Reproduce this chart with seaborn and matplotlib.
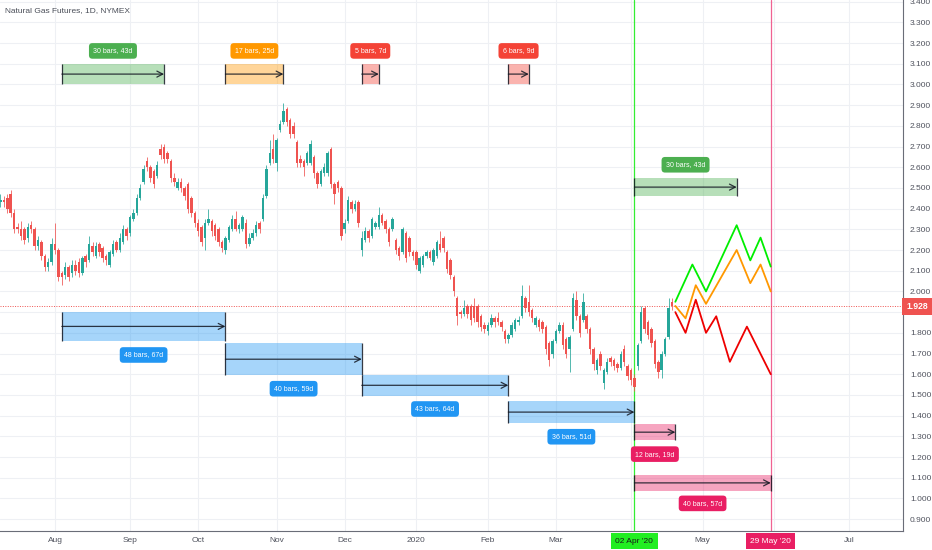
import numpy as np
import pandas as pd
import matplotlib
matplotlib.use('Agg')
import matplotlib.pyplot as plt
from matplotlib.patches import Rectangle
import seaborn as sns

# Daily bars NG1!, 10 Jul 2019 .. 20 Apr 2020
opens = [
    2.43, 2.44, 2.45, 2.47, 2.38, 2.31, 2.30, 2.30, 2.26, 2.32,
    2.30, 2.22, 2.24, 2.17, 2.12, 2.14, 2.23, 2.20, 2.09, 2.08,
    2.12, 2.09, 2.13, 2.14, 2.09, 2.17, 2.15, 2.22, 2.17, 2.23,
    2.21, 2.17, 2.13, 2.18, 2.24, 2.20, 2.24, 2.30, 2.28, 2.35,
    2.38, 2.45, 2.53, 2.63, 2.60, 2.58, 2.56, 2.69, 2.70, 2.67,
    2.63, 2.55, 2.50, 2.53, 2.50, 2.52, 2.45, 2.38, 2.33, 2.31,
    2.26, 2.33, 2.34, 2.32, 2.30, 2.24, 2.20, 2.25, 2.30, 2.35,
    2.30, 2.30, 2.33, 2.23, 2.26, 2.28, 2.33, 2.35, 2.46, 2.62,
    2.69, 2.62, 2.78, 2.82, 2.88, 2.83, 2.80, 2.72, 2.64, 2.63,
    2.62, 2.62, 2.65, 2.57, 2.52, 2.57, 2.57, 2.69, 2.52, 2.53,
    2.50, 2.30, 2.34, 2.43, 2.40, 2.43, 2.20, 2.25, 2.29, 2.27,
    2.31, 2.31, 2.37, 2.34, 2.30, 2.30, 2.25, 2.21, 2.19, 2.28,
    2.26, 2.19, 2.19, 2.10, 2.13, 2.17, 2.19, 2.14, 2.17, 2.23,
    2.26, 2.19, 2.15, 2.07, 1.97, 1.90, 1.89, 1.93, 1.93, 1.93,
    1.93, 1.88, 1.84, 1.81, 1.84, 1.87, 1.87, 1.85, 1.81, 1.77,
    1.79, 1.82, 1.85, 1.88, 1.97, 1.95, 1.91, 1.84, 1.86, 1.85,
    1.83, 1.75, 1.70, 1.76, 1.81, 1.84, 1.77, 1.72, 1.82, 1.96,
    1.88, 1.86, 1.88, 1.82, 1.72, 1.62, 1.70, 1.56, 1.61, 1.68,
    1.67, 1.65, 1.63, 1.72, 1.64, 1.62, 1.58, 1.64, 1.76, 1.92,
    1.85, 1.82, 1.76, 1.66, 1.62, 1.70, 1.78, 1.95,
]
closes = [
    2.44, 2.43, 2.40, 2.38, 2.30, 2.30, 2.27, 2.25, 2.31, 2.30,
    2.22, 2.25, 2.17, 2.12, 2.14, 2.23, 2.20, 2.07, 2.07, 2.12,
    2.07, 2.13, 2.10, 2.09, 2.16, 2.14, 2.23, 2.19, 2.22, 2.19,
    2.16, 2.15, 2.19, 2.23, 2.20, 2.26, 2.30, 2.27, 2.36, 2.38,
    2.45, 2.50, 2.59, 2.60, 2.55, 2.52, 2.61, 2.66, 2.64, 2.64,
    2.55, 2.53, 2.53, 2.50, 2.46, 2.40, 2.38, 2.33, 2.29, 2.24,
    2.33, 2.35, 2.29, 2.27, 2.24, 2.21, 2.26, 2.31, 2.35, 2.30,
    2.32, 2.36, 2.23, 2.26, 2.28, 2.32, 2.30, 2.45, 2.59, 2.67,
    2.64, 2.73, 2.81, 2.87, 2.82, 2.76, 2.76, 2.62, 2.62, 2.60,
    2.67, 2.71, 2.57, 2.52, 2.58, 2.60, 2.67, 2.52, 2.47, 2.50,
    2.27, 2.33, 2.44, 2.40, 2.42, 2.33, 2.26, 2.29, 2.26, 2.35,
    2.33, 2.37, 2.33, 2.30, 2.24, 2.35, 2.20, 2.17, 2.30, 2.16,
    2.19, 2.17, 2.13, 2.16, 2.17, 2.19, 2.16, 2.20, 2.24, 2.20,
    2.21, 2.11, 2.08, 2.00, 1.88, 1.89, 1.92, 1.89, 1.86, 1.87,
    1.85, 1.83, 1.82, 1.84, 1.87, 1.85, 1.85, 1.83, 1.77, 1.79,
    1.84, 1.86, 1.86, 1.98, 1.92, 1.90, 1.87, 1.87, 1.83, 1.82,
    1.72, 1.67, 1.76, 1.81, 1.84, 1.74, 1.70, 1.78, 1.97, 1.88,
    1.80, 1.95, 1.82, 1.72, 1.65, 1.67, 1.64, 1.62, 1.66, 1.66,
    1.64, 1.63, 1.70, 1.66, 1.59, 1.57, 1.54, 1.74, 1.90, 1.82,
    1.79, 1.75, 1.65, 1.61, 1.70, 1.77, 1.92, 1.928,
]
highs = [
    2.47, 2.46, 2.47, 2.49, 2.40, 2.33, 2.34, 2.31, 2.33, 2.34,
    2.31, 2.27, 2.25, 2.18, 2.16, 2.26, 2.33, 2.21, 2.10, 2.14,
    2.13, 2.15, 2.15, 2.16, 2.17, 2.18, 2.27, 2.24, 2.24, 2.24,
    2.22, 2.18, 2.20, 2.25, 2.25, 2.28, 2.32, 2.31, 2.37, 2.40,
    2.47, 2.52, 2.61, 2.65, 2.61, 2.59, 2.63, 2.71, 2.71, 2.68,
    2.64, 2.57, 2.55, 2.55, 2.51, 2.53, 2.46, 2.39, 2.35, 2.32,
    2.35, 2.40, 2.35, 2.33, 2.31, 2.25, 2.27, 2.32, 2.37, 2.39,
    2.33, 2.37, 2.35, 2.28, 2.30, 2.34, 2.34, 2.47, 2.61, 2.73,
    2.76, 2.74, 2.83, 2.91, 2.89, 2.84, 2.82, 2.73, 2.66, 2.64,
    2.68, 2.73, 2.66, 2.58, 2.59, 2.62, 2.68, 2.70, 2.53, 2.54,
    2.51, 2.35, 2.46, 2.44, 2.44, 2.44, 2.29, 2.31, 2.30, 2.36,
    2.34, 2.41, 2.38, 2.35, 2.31, 2.36, 2.26, 2.22, 2.31, 2.29,
    2.27, 2.20, 2.20, 2.17, 2.18, 2.20, 2.20, 2.21, 2.25, 2.29,
    2.27, 2.20, 2.16, 2.08, 1.98, 1.91, 1.96, 1.94, 1.94, 1.97,
    1.94, 1.89, 1.85, 1.85, 1.89, 1.88, 1.90, 1.86, 1.82, 1.80,
    1.85, 1.87, 1.88, 2.03, 1.98, 2.03, 1.92, 1.88, 1.87, 1.86,
    1.84, 1.76, 1.77, 1.82, 1.85, 1.85, 1.78, 1.79, 1.99, 2.00,
    1.89, 1.99, 1.89, 1.83, 1.73, 1.68, 1.71, 1.63, 1.68, 1.69,
    1.68, 1.66, 1.71, 1.74, 1.65, 1.63, 1.60, 1.75, 1.93, 1.93,
    1.86, 1.83, 1.77, 1.67, 1.71, 1.78, 1.97, 1.97,
]
lows = [
    2.41, 2.41, 2.38, 2.36, 2.28, 2.28, 2.25, 2.23, 2.24, 2.28,
    2.20, 2.20, 2.15, 2.10, 2.10, 2.13, 2.18, 2.05, 2.03, 2.06,
    2.05, 2.07, 2.08, 2.07, 2.08, 2.12, 2.14, 2.17, 2.16, 2.17,
    2.14, 2.13, 2.12, 2.17, 2.19, 2.19, 2.23, 2.25, 2.27, 2.34,
    2.37, 2.44, 2.52, 2.58, 2.53, 2.50, 2.55, 2.64, 2.62, 2.62,
    2.53, 2.51, 2.49, 2.48, 2.44, 2.38, 2.36, 2.31, 2.27, 2.22,
    2.20, 2.32, 2.27, 2.25, 2.22, 2.19, 2.18, 2.24, 2.29, 2.29,
    2.28, 2.29, 2.21, 2.22, 2.25, 2.27, 2.28, 2.34, 2.45, 2.61,
    2.62, 2.58, 2.77, 2.81, 2.80, 2.74, 2.74, 2.60, 2.60, 2.56,
    2.61, 2.61, 2.55, 2.50, 2.51, 2.56, 2.56, 2.50, 2.42, 2.48,
    2.25, 2.28, 2.33, 2.38, 2.39, 2.31, 2.17, 2.24, 2.24, 2.26,
    2.30, 2.30, 2.32, 2.28, 2.22, 2.29, 2.18, 2.15, 2.18, 2.14,
    2.17, 2.15, 2.11, 2.09, 2.12, 2.16, 2.15, 2.13, 2.16, 2.19,
    2.19, 2.09, 2.06, 1.98, 1.84, 1.87, 1.88, 1.87, 1.84, 1.85,
    1.83, 1.81, 1.80, 1.79, 1.83, 1.83, 1.84, 1.81, 1.75, 1.75,
    1.78, 1.81, 1.84, 1.87, 1.90, 1.88, 1.85, 1.83, 1.81, 1.80,
    1.70, 1.64, 1.68, 1.75, 1.80, 1.72, 1.68, 1.61, 1.81, 1.86,
    1.78, 1.85, 1.80, 1.70, 1.62, 1.60, 1.62, 1.53, 1.60, 1.64,
    1.62, 1.61, 1.62, 1.64, 1.57, 1.55, 1.52, 1.62, 1.75, 1.80,
    1.77, 1.73, 1.63, 1.58, 1.58, 1.69, 1.77, 1.91,
]
last_price = 1.928

# trading calendar (CME closed days), future bars run past the data
holidays = ['2019-09-02', '2019-11-28', '2019-12-25', '2020-01-01', '2020-01-20', '2020-04-10']
start_date, end_date = '2019-07-10', '2020-07-31'

# projected paths (bar index, price)
green_bars = [198, 203, 207, 216, 220, 223, 226]
green_prices = [1.95, 2.13, 2.00, 2.32, 2.15, 2.26, 2.12]
orange_bars = [198, 201, 204, 207, 216, 220, 223, 226]
orange_prices = [1.93, 1.87, 2.03, 1.94, 2.20, 2.04, 2.13, 2.00]
red_bars = [198, 201, 204, 207, 210, 214, 219, 226]
red_prices = [1.90, 1.80, 1.96, 1.80, 1.88, 1.66, 1.83, 1.60]

# date range tools: start bar, end bar, low, high, label, label price, colour
rng_start = [18, 66, 106, 149, 18, 66, 106, 149, 186, 186, 186]
rng_end = [48, 83, 111, 155, 66, 106, 149, 186, 198, 226, 216]
rng_low = [3.00, 3.00, 3.00, 3.00, 1.760, 1.596, 1.497, 1.363, 1.282, 1.037, 2.462]
rng_high = [3.10, 3.10, 3.10, 3.10, 1.902, 1.749, 1.596, 1.471, 1.358, 1.113, 2.546]
rng_label = ['30 bars, 43d', '17 bars, 25d', '5 bars, 7d', '6 bars, 9d',
             '48 bars, 67d', '40 bars, 59d', '43 bars, 64d', '36 bars, 51d',
             '12 bars, 19d', '40 bars, 57d', '30 bars, 43d']
rng_label_y = [3.162, 3.162, 3.162, 3.162, 1.693, 1.530, 1.432, 1.298, 1.214, 0.976, 2.612]
rng_color = ['#4caf50', '#ff9800', '#f44336', '#f44336',
             '#2196f3', '#2196f3', '#2196f3', '#2196f3',
             '#e91e63', '#e91e63', '#4caf50']

marker_green_bar = 186
marker_pink_bar = 226

UP = '#26a69a'
DOWN = '#ef5350'

sns.set_theme(style='white')
plt.rcParams['font.family'] = ['Liberation Sans', 'DejaVu Sans']

dates = pd.bdate_range(start_date, end_date, freq='C', holidays=holidays)

fig = plt.figure(figsize=(9.32, 5.5), dpi=100)
ax = fig.add_axes([0, 19.3 / 550, 903 / 932, 530.7 / 550])

# candles
o = np.array(opens)
c = np.array(closes)
h = np.array(highs)
l = np.array(lows)
idx = np.arange(len(c))
col = np.where(c >= o, UP, DOWN)
ax.vlines(idx, l, h, colors=col, lw=0.7, alpha=0.8, zorder=3)
ax.bar(idx, np.maximum(np.abs(c - o), 0.004), bottom=np.minimum(o, c),
       width=0.72, color=col, linewidth=0, zorder=4)

# projections
proj = pd.concat([
    pd.DataFrame({'bar': green_bars, 'price': green_prices, 'path': 'green'}),
    pd.DataFrame({'bar': orange_bars, 'price': orange_prices, 'path': 'orange'}),
    pd.DataFrame({'bar': red_bars, 'price': red_prices, 'path': 'red'}),
])
sns.lineplot(data=proj, x='bar', y='price', hue='path',
             palette={'green': '#00ee00', 'orange': '#ff9800', 'red': '#ee0000'},
             estimator=None, sort=False, lw=1.3, legend=False, ax=ax, zorder=5)

# date ranges
for s, e, lo, hi, lab, ly, cc in zip(rng_start, rng_end, rng_low, rng_high,
                                     rng_label, rng_label_y, rng_color):
    ax.add_patch(Rectangle((s, lo), e - s, hi - lo, facecolor=cc, alpha=0.4,
                           edgecolor='none', zorder=2))
    ax.vlines([s, e], lo, hi, color='#131722', lw=0.9, alpha=0.85, zorder=6)
    mid = (lo + hi) / 2
    ax.annotate('', xy=(e, mid), xytext=(s, mid), zorder=6,
                arrowprops=dict(arrowstyle='->,head_length=0.35,head_width=0.18',
                                color='#131722', lw=0.9,
                                shrinkA=0, shrinkB=0, alpha=0.85))
    ax.text((s + e) / 2, ly, lab, ha='center', va='center', fontsize=5,
            color='white', zorder=7,
            bbox=dict(boxstyle='round,pad=0.62,rounding_size=0.5', fc=cc, ec='none'))

# vertical markers and last price line
ax.axvline(marker_green_bar, color='#33ee33', lw=0.9, zorder=1)
ax.axvline(marker_pink_bar, color='#f06292', lw=0.9, zorder=1)
ax.axhline(last_price, color='#ef5350', lw=0.7, ls=(0, (1, 1.5)), zorder=1)

# axes
ax.set_xlim(-0.14, 264.8)
ax.set_ylim(0.844, 3.408)

month_first = pd.Series(np.arange(len(dates)), index=dates)
month_first = month_first.groupby([dates.year, dates.month]).first()
xt, xl = [], []
for (yr, mo), pos in month_first.items():
    if yr == 2019 and mo == 7:
        continue
    xt.append(pos)
    if mo == 1:
        xl.append(str(yr))
    elif mo in (4, 6):
        xl.append('')
    else:
        xl.append(pd.Timestamp(yr, mo, 1).strftime('%b'))
ax.set_xticks(xt)
ax.set_xticklabels(xl)

yt = np.round(np.arange(0.9, 3.401, 0.1), 1)
ax.set_yticks(yt)
ax.set_yticklabels([f'{v:.3f}' for v in yt])
ax.yaxis.tick_right()
ax.tick_params(axis='y', right=True, left=False, labelright=True, labelleft=False,
               labelsize=6, colors='#50535e', length=3, width=0.6, pad=2)
ax.tick_params(axis='x', labelsize=6, colors='#50535e', length=0, pad=4.5)
ax.set_xlabel('')
ax.set_ylabel('')

ax.grid(True, color='#eef0f4', lw=0.8)
ax.set_axisbelow(True)
sns.despine(ax=ax, left=True, top=True, right=False, bottom=False)
for side in ('right', 'bottom'):
    ax.spines[side].set_color('#6a6d78')
    ax.spines[side].set_linewidth(0.8)

# axis labels for markers and price
ax.annotate(f'{last_price:.3f}', xy=(1.0, last_price), xycoords=('axes fraction', 'data'),
            xytext=(2.2, 0), textcoords='offset points', ha='left', va='center',
            fontsize=6.2, color='white', fontweight='bold', annotation_clip=False, zorder=10,
            bbox=dict(boxstyle='square,pad=0.45', fc='#ef5350', ec='none'))
ax.annotate("02 Apr '20", xy=(marker_green_bar, 0), xycoords=('data', 'axes fraction'),
            xytext=(0, -7.5), textcoords='offset points', ha='center', va='center',
            fontsize=6, color='#1a1a1a', annotation_clip=False, zorder=10,
            bbox=dict(boxstyle='square,pad=0.5', fc='#22ee22', ec='none'))
ax.annotate("29 May '20", xy=(marker_pink_bar, 0), xycoords=('data', 'axes fraction'),
            xytext=(0, -7.5), textcoords='offset points', ha='center', va='center',
            fontsize=6, color='white', annotation_clip=False, zorder=10,
            bbox=dict(boxstyle='square,pad=0.5', fc='#e91e63', ec='none'))

fig.text(5 / 932, 1 - 11 / 550, 'Natural Gas Futures, 1D, NYMEX', fontsize=6,
         color='#4a4e58', va='center', ha='left')

fig.savefig('out.png', dpi=100)
